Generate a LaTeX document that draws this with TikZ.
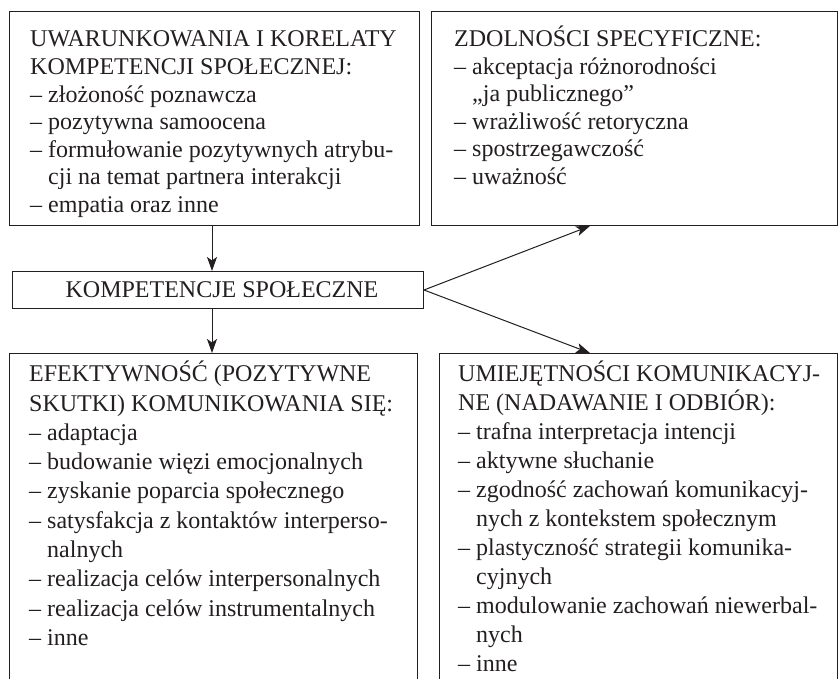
\documentclass[tikz,border=0pt]{standalone}
\usepackage{fontspec}
\setmainfont{Liberation Serif}
\usetikzlibrary{arrows.meta}
\definecolor{ink}{RGB}{35,31,32}
\newcommand{\myind}{\phantom{–\ }}
\newcommand{\toptext}[1]{\parbox[t]{400pt}{\fontsize{24}{27.6}\selectfont\raggedright #1}}
\newcommand{\bottext}[2]{\parbox[t]{400pt}{\fontsize{24}{#1}\selectfont\raggedright #2}}
\begin{document}
\begin{tikzpicture}[x=1pt,y=-1pt,
  box/.style={draw=ink, line width=1pt, inner sep=0pt, anchor=north west},
  txt/.style={anchor=base west, inner sep=0pt, text=ink},
  arr/.style={draw=ink, line width=1pt, -{Stealth[length=14pt,width=10pt,inset=3.5pt]}}]
\useasboundingbox (0,0) rectangle (838,679);
\begin{scope}
\clip (0,0) rectangle (838,679);
% boxes
\node[box, minimum width=410pt, minimum height=214pt] (tl) at (9,11) {};
\node[box, minimum width=406pt, minimum height=214pt] (tr) at (431,11) {};
\node[box, minimum width=411pt, minimum height=37pt] (mid) at (12,271) {};
\node[box, minimum width=408pt, minimum height=400pt] (bl) at (9,353) {};
\node[box, minimum width=398pt, minimum height=400pt] (br) at (439,353) {};
% texts
\node[txt] (tltext) at (30,47) {\toptext{%
UWARUNKOWANIA I KORELATY\\
KOMPETENCJI SPOŁECZNEJ:\\
– złożoność poznawcza\\
– pozytywna samoocena\\
– formułowanie pozytywnych atrybu-\\
\myind cji na temat partnera interakcji\\
– empatia oraz inne}};
\node[txt] (trtext) at (454,46.5) {\toptext{%
ZDOLNOŚCI SPECYFICZNE:\\
– akceptacja różnorodności\\
\myind „ja publicznego”\\
– wrażliwość retoryczna\\
– spostrzegawczość\\
– uważność}};
\node[txt, anchor=base, font=\fontsize{24}{27.6}\selectfont] (midtext) at (222,297) {KOMPETENCJE SPOŁECZNE};
\node[txt] (bltext) at (29,381.7) {\bottext{29.3}{%
EFEKTYWNOŚĆ (POZYTYWNE\\
SKUTKI) KOMUNIKOWANIA SIĘ:\\
– adaptacja\\
– budowanie więzi emocjonalnych\\
– zyskanie poparcia społecznego\\
– satysfakcja z kontaktów interperso-\\
\myind nalnych\\
– realizacja celów interpersonalnych\\
– realizacja celów instrumentalnych\\
– inne}};
\node[txt] (brtext) at (458,381.7) {\bottext{29}{%
UMIEJĘTNOŚCI KOMUNIKACYJ-\\
NE (NADAWANIE I ODBIÓR):\\
– trafna interpretacja intencji\\
– aktywne słuchanie\\
– zgodność zachowań komunikacyj-\\
\myind nych z kontekstem społecznym\\
– plastyczność strategii komunika-\\
\myind cyjnych\\
– modulowanie zachowań niewerbal-\\
\myind nych\\
– inne}};
% connectors
\coordinate (vx) at (212,0);
\coordinate (dx) at (590,0);
\draw[arr] (tl.south -| vx) -- (mid.north -| vx);
\draw[arr] (mid.south -| vx) -- (bl.north -| vx);
\draw[arr] (mid.east) -- (tr.south -| dx);
\draw[arr] (mid.east) -- (br.north -| dx);
\end{scope}
\end{tikzpicture}
\end{document}
